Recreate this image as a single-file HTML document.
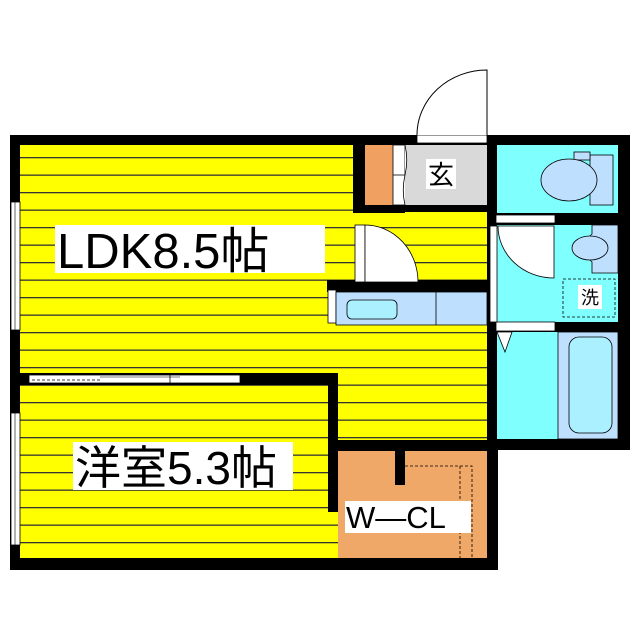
<!DOCTYPE html>
<html><head><meta charset="utf-8"><style>
html,body{margin:0;padding:0;background:#fff;width:640px;height:640px;overflow:hidden}
svg{display:block}
text{font-family:"Liberation Sans","Noto Sans CJK JP",sans-serif;fill:#000}
</style></head><body>
<svg width="640" height="640" viewBox="0 0 640 640" xmlns="http://www.w3.org/2000/svg">
<defs>
<pattern id="fl" x="0" y="157" width="10" height="17.5" patternUnits="userSpaceOnUse">
<rect width="10" height="17.5" fill="#ffff00"/><rect y="0" width="10" height="1.3" fill="#333"/>
</pattern>
</defs>
<rect x="10" y="135" width="488" height="435" fill="#000"/>
<rect x="488" y="135" width="142" height="315" fill="#000"/>
<rect x="20" y="145" width="333" height="228" fill="url(#fl)"/>
<rect x="353" y="212" width="134" height="68" fill="url(#fl)"/>
<rect x="20" y="280" width="467" height="93" fill="url(#fl)"/>
<rect x="338" y="373" width="149" height="67" fill="url(#fl)"/>
<rect x="20" y="385" width="310" height="173" fill="url(#fl)"/>
<rect x="330" y="512" width="8" height="46" fill="url(#fl)"/>
<rect x="353" y="143" width="12" height="70" fill="#000"/>
<rect x="365" y="205" width="40" height="8" fill="#000"/>
<rect x="327" y="280" width="160" height="12" fill="#000"/>
<rect x="20" y="373" width="318" height="12" fill="#000"/>
<rect x="328" y="373" width="10" height="139" fill="#000"/>
<rect x="338" y="440" width="159" height="11" fill="#000"/>
<rect x="365" y="145" width="28" height="60" fill="#f0a060"/>
<rect x="393" y="145" width="12" height="60" fill="#fff" stroke="#000" stroke-width="0.8"/>
<line x1="393" y1="175" x2="405" y2="175" stroke="#000" stroke-width="0.8"/>
<rect x="405" y="145" width="82" height="60" fill="#d9d9d9"/>
<path d="M405 145 A12 30 0 0 1 405 175 M405 175 A12 30 0 0 0 405 205" fill="#fff" stroke="#000" stroke-width="0.8"/>
<rect x="426" y="159" width="30" height="30" fill="#fff"/>
<text x="441" y="184" font-size="26" text-anchor="middle">玄</text>
<rect x="417" y="135" width="70" height="8" fill="#fff" stroke="#000" stroke-width="0.8"/>
<path d="M487 135 L487 70 A70 65 0 0 0 417 135" fill="#fff" stroke="#000" stroke-width="1"/>
<rect x="355" y="225" width="10" height="57" fill="#fff" stroke="#000" stroke-width="0.8"/>
<path d="M365 225 A53 57 0 0 1 418 282 L365 282 Z" fill="#fff" stroke="#000" stroke-width="0.8"/>
<rect x="328" y="290" width="8" height="33" fill="#fff" stroke="#000" stroke-width="0.8"/>
<rect x="336" y="292" width="151" height="33" fill="#bfdfff" stroke="#000" stroke-width="0.8"/>
<line x1="436" y1="292" x2="436" y2="325" stroke="#000" stroke-width="0.8"/>
<rect x="347" y="300" width="50" height="19" rx="5" fill="#aaf0ff" stroke="#000" stroke-width="0.8"/>
<rect x="497" y="145" width="121" height="68" fill="#80ffff"/>
<rect x="497" y="225" width="121" height="97" fill="#80ffff"/>
<rect x="497" y="332" width="61" height="107" fill="#80ffff"/>
<rect x="558" y="332" width="60" height="107" fill="#bfdfff" stroke="#000" stroke-width="0.8"/>
<rect x="569" y="337" width="43" height="96" rx="10" fill="#aaf0ff" stroke="#000" stroke-width="0.8"/>
<rect x="496" y="213" width="122" height="12" fill="#000"/>
<rect x="496" y="322" width="122" height="10" fill="#000"/>
<rect x="496" y="215" width="59" height="8" fill="#fff" stroke="#000" stroke-width="0.8"/>
<rect x="496" y="322" width="59" height="9" fill="#fff" stroke="#000" stroke-width="0.8"/>
<rect x="590" y="155" width="23" height="50" fill="#bfdfff" stroke="#000" stroke-width="0.8"/>
<rect x="574" y="152" width="16" height="8" fill="#bfdfff" stroke="#000" stroke-width="0.8"/>
<ellipse cx="569" cy="180" rx="28" ry="21" fill="#bfdfff" stroke="#000" stroke-width="0.8"/>
<path d="M592 225 L618 225 L618 273 L592 273 L592 262 A18 18 0 0 1 592 234 Z" fill="#bfdfff" stroke="#000" stroke-width="0.8"/>
<ellipse cx="590" cy="248" rx="18" ry="12" fill="#bfdfff" stroke="#000" stroke-width="0.8"/>
<rect x="563" y="279" width="52" height="38" fill="none" stroke="#000" stroke-width="0.8" stroke-dasharray="3,2"/>
<rect x="578" y="285" width="24" height="24" fill="#fff"/>
<text x="590" y="304" font-size="18" text-anchor="middle">洗</text>
<rect x="490" y="226" width="7" height="96" fill="#fff" stroke="#000" stroke-width="0.8"/>
<path d="M498 226 L554 226 L554 278 A56 52 0 0 1 498 226 Z" fill="#fff" stroke="#000" stroke-width="0.8"/>
<path d="M497 332 L512 332 L505 352 Z" fill="#fff" stroke="#000" stroke-width="0.8"/>
<rect x="338" y="451" width="149" height="107" fill="#f0a868"/>
<rect x="395" y="451" width="10" height="34" fill="#000"/>
<path d="M405 466 L472 466 L472 558 M460 466 L460 558" fill="none" stroke="#000" stroke-width="0.8" stroke-dasharray="3,2"/>
<rect x="345" y="501" width="126" height="32" fill="#fff"/>
<text x="346" y="528" font-size="31">W—CL</text>
<rect x="11" y="202" width="9" height="128" fill="#fff" stroke="#000" stroke-width="0.8"/>
<line x1="15" y1="202" x2="15" y2="330" stroke="#000" stroke-width="0.6"/>
<rect x="11" y="413" width="9" height="132" fill="#fff" stroke="#000" stroke-width="0.8"/>
<line x1="15" y1="413" x2="15" y2="545" stroke="#000" stroke-width="0.6"/>
<rect x="29" y="375" width="211" height="8" fill="#fff" stroke="#000" stroke-width="0.8"/>
<line x1="32" y1="380" x2="100" y2="380" stroke="#000" stroke-width="0.8" stroke-dasharray="3,2"/>
<line x1="100" y1="377" x2="180" y2="377" stroke="#000" stroke-width="0.6"/>
<line x1="170" y1="375" x2="170" y2="383" stroke="#000" stroke-width="0.8"/>
<rect x="55" y="225" width="270" height="48" fill="#fff"/>
<text x="57" y="268" font-size="49">LDK8.5帖</text>
<rect x="73" y="442" width="220" height="48" fill="#fff"/>
<text x="75" y="484" font-size="46">洋室5.3帖</text>
</svg>
</body></html>
